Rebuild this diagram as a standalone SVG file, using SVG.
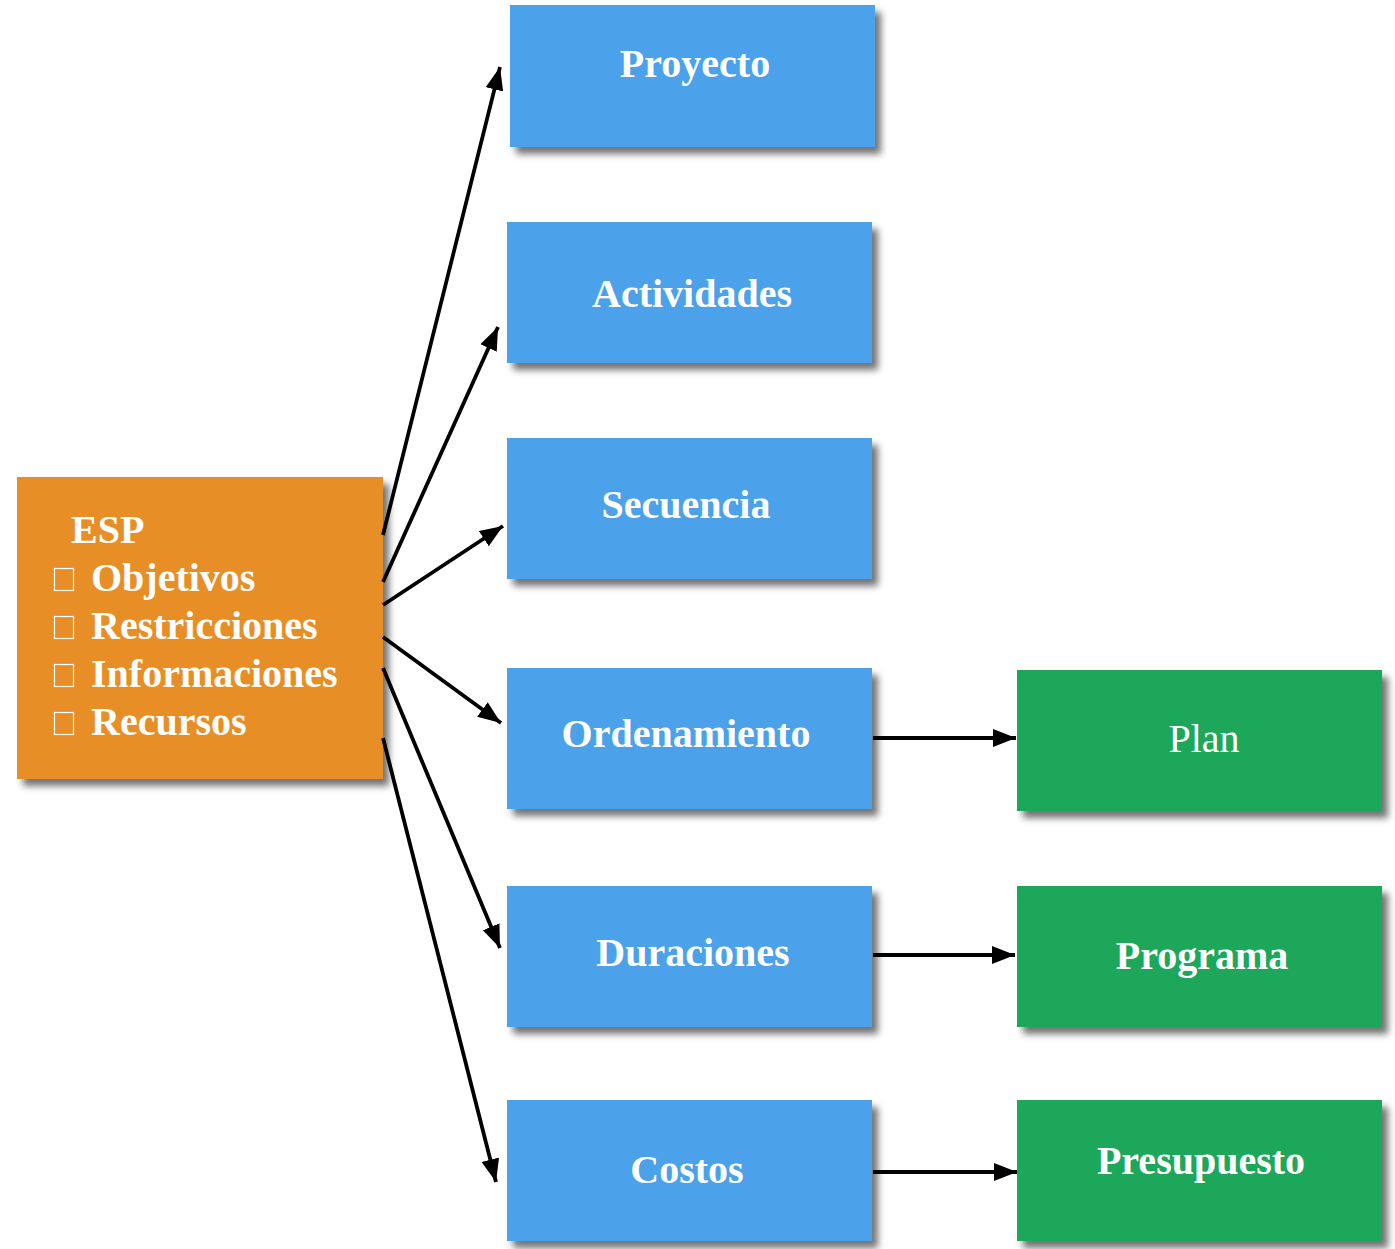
<svg xmlns="http://www.w3.org/2000/svg" width="1395" height="1249" viewBox="0 0 1395 1249">
<style>
.t{font-family:"Liberation Serif","Times New Roman",serif;font-size:40px;fill:#ffffff;font-weight:bold;text-anchor:middle}
.l{font-family:"Liberation Serif","Times New Roman",serif;font-size:40px;fill:#ffffff;font-weight:bold}
.blue{fill:#4BA1EA}
.green{fill:#1BA75A}
.orange{fill:#E88E27}
.c{stroke:#000;stroke-width:3.8;fill:none;marker-end:url(#ah)}
.sq{fill:none;stroke:#fff;stroke-width:1.2}
</style>
<defs>
<filter id="sh" x="-10%" y="-10%" width="130%" height="140%">
<feDropShadow dx="6" dy="7" stdDeviation="3.5" flood-color="#000" flood-opacity="0.55"/>
</filter>
<marker id="ah" markerUnits="userSpaceOnUse" markerWidth="26" markerHeight="20" refX="23" refY="9" orient="auto">
<path d="M0,0 L23,9 L0,18 z" fill="#000"/>
</marker>
</defs>
<rect width="1395" height="1249" fill="#ffffff"/>
<g id="n-esp">
<rect class="orange" x="17" y="477" width="366" height="302" filter="url(#sh)"/>
<text class="l" x="71" y="543">ESP</text>
<rect class="sq" x="54.5" y="568.5" width="19" height="22"/>
<text class="l" x="91" y="591">Objetivos</text>
<rect class="sq" x="54.5" y="616.5" width="19" height="22"/>
<text class="l" x="91" y="639">Restricciones</text>
<rect class="sq" x="54.5" y="664.5" width="19" height="22"/>
<text class="l" x="91" y="687">Informaciones</text>
<rect class="sq" x="54.5" y="712.5" width="19" height="22"/>
<text class="l" x="91" y="735">Recursos</text>
</g>
<g id="n-proyecto">
<rect class="blue" x="510" y="5" width="365" height="142" filter="url(#sh)"/>
<text class="t" x="695" y="77">Proyecto</text>
</g>
<g id="n-actividades">
<rect class="blue" x="507" y="222" width="365" height="141" filter="url(#sh)"/>
<text class="t" x="692" y="307">Actividades</text>
</g>
<g id="n-secuencia">
<rect class="blue" x="507" y="438" width="365" height="141" filter="url(#sh)"/>
<text class="t" x="686" y="518">Secuencia</text>
</g>
<g id="n-ordenamiento">
<rect class="blue" x="507" y="668" width="365" height="141" filter="url(#sh)"/>
<text class="t" x="686" y="747">Ordenamiento</text>
</g>
<g id="n-duraciones">
<rect class="blue" x="507" y="886" width="365" height="141" filter="url(#sh)"/>
<text class="t" x="693" y="966">Duraciones</text>
</g>
<g id="n-costos">
<rect class="blue" x="507" y="1100" width="365" height="141" filter="url(#sh)"/>
<text class="t" x="687" y="1183">Costos</text>
</g>
<g id="n-plan">
<rect class="green" x="1017" y="670" width="365" height="141" filter="url(#sh)"/>
<text class="t" x="1204" y="752" style="font-weight:normal">Plan</text>
</g>
<g id="n-programa">
<rect class="green" x="1017" y="886" width="365" height="141" filter="url(#sh)"/>
<text class="t" x="1202" y="969">Programa</text>
</g>
<g id="n-presupuesto">
<rect class="green" x="1017" y="1100" width="365" height="141" filter="url(#sh)"/>
<text class="t" x="1201" y="1174">Presupuesto</text>
</g>
<g id="connectors">
<path class="c" d="M383,535 L500,67"/>
<path class="c" d="M383,582 L498,327"/>
<path class="c" d="M383,605 L503,526"/>
<path class="c" d="M383,637 L501,723"/>
<path class="c" d="M383,668 L500,948"/>
<path class="c" d="M383,738 L496,1182"/>
<path class="c" d="M873,738 L1016,738"/>
<path class="c" d="M873,955 L1015,955"/>
<path class="c" d="M873,1172 L1017,1172"/>
</g>
</svg>
